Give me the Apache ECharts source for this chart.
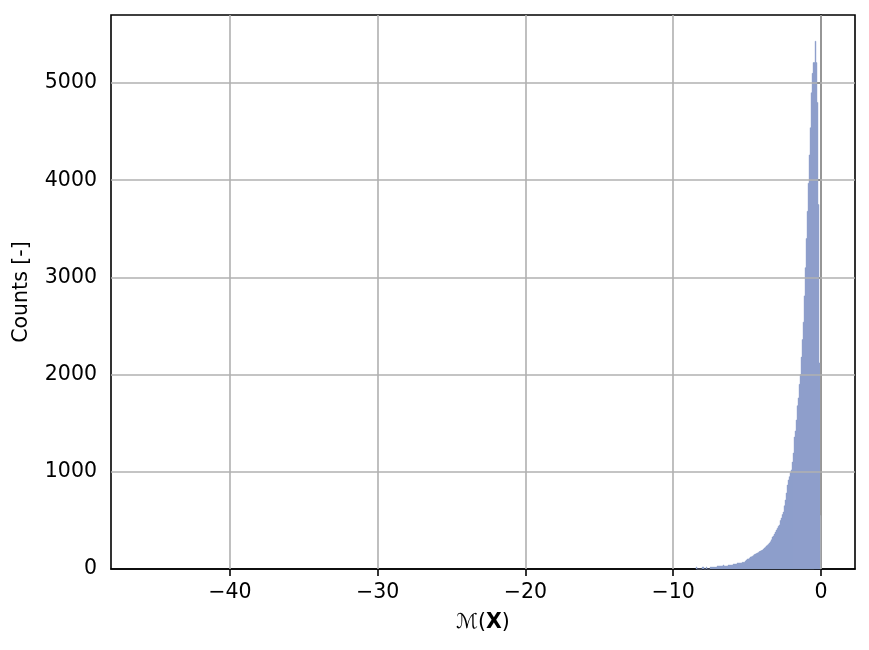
<!DOCTYPE html>
<html>
<head>
<meta charset="utf-8">
<script src="https://cdn.jsdelivr.net/npm/echarts@6/dist/echarts.min.js"></script>
<style>html,body{margin:0;padding:0;background:#fff}#c{width:869px;height:650px}</style>
</head>
<body>
<div id="c"></div>
<script>
// Histogram: bins of equal width, left edge of first visible bin and counts per bin
const BIN_W = 0.06768;
const FIRST_EDGE = -8.46;
const counts = [
  20, 0, 0, 0, 0, 0, 20, 20, 0, 0,
  20, 0, 0, 0, 20, 20, 20, 20, 20, 20,
  20, 31, 31, 31, 31, 31, 31, 41, 31, 31,
  31, 31, 41, 41, 41, 41, 41, 51, 51, 51,
  51, 62, 62, 62, 62, 62, 69, 69, 69, 82,
  92, 103, 103, 110, 123, 125, 130, 140, 150, 154,
  160, 165, 170, 180, 185, 190, 195, 205, 215, 225,
  237, 245, 255, 267, 280, 300, 329, 340, 360, 380,
  401, 420, 440, 453, 500, 525, 560, 586, 650, 710,
  782, 864, 916, 950, 990, 1019, 1100, 1193, 1358, 1420,
  1533, 1680, 1760, 1900, 2000, 2180, 2360, 2540, 2810, 3100,
  3400, 3680, 3970, 4260, 4540, 4900, 5100, 5210, 5210, 5430,
  5210, 4800, 3750, 2120, 550
];
const xTicks = [-40, -30, -20, -10, 0];
const yTicks = [0, 1000, 2000, 3000, 4000, 5000];
const X_MIN = -48.05, X_MAX = 2.3, Y_MAX = 5700;

const barColor = '#8da0cb';
const gridColor = '#b0b0b0';
const font = "'DejaVu Sans', sans-serif";
const FS = 20.5;
const fmt = v => String(v).replace('-', '\u2212');

const binData = counts.map((c, i) => [FIRST_EDGE + i * BIN_W, FIRST_EDGE + (i + 1) * BIN_W, c]);

const chart = echarts.init(document.getElementById('c'), null, {renderer: 'canvas'});
chart.setOption({
  animation: false,
  backgroundColor: '#fff',
  grid: {left: 111, right: 14, top: 15, bottom: 81, show: true, borderColor: '#000', borderWidth: 1.6, backgroundColor: 'transparent'},
  xAxis: {
    type: 'value', min: X_MIN, max: X_MAX,
    name: '{m|\u2133}{n|(}{b|X}{n|)}', nameLocation: 'middle', nameGap: 43,
    nameTextStyle: {rich: {
      m: {fontFamily: font, fontSize: FS, color: '#000', fontStyle: 'italic'},
      n: {fontFamily: font, fontSize: FS, color: '#000'},
      b: {fontFamily: font, fontSize: FS, color: '#000', fontWeight: 'bold'}
    }},
    axisLine: {show: true, onZero: false, lineStyle: {color: '#000', width: 1.6}},
    axisTick: {show: true, customValues: xTicks, length: 7, lineStyle: {color: '#000', width: 1.6}},
    axisLabel: {customValues: xTicks, formatter: fmt, color: '#000', fontFamily: font, fontSize: FS, margin: 13},
    splitLine: {show: false}
  },
  yAxis: {
    type: 'value', min: 0, max: Y_MAX,
    name: 'Counts [-]', nameLocation: 'middle', nameGap: 79, nameRotate: 90,
    nameTextStyle: {color: '#000', fontFamily: font, fontSize: FS},
    axisLine: {show: true, lineStyle: {color: '#000', width: 1.6}},
    axisTick: {show: true, customValues: yTicks, length: 7, lineStyle: {color: '#000', width: 1.6}},
    axisLabel: {customValues: yTicks, formatter: v => String(v), color: '#000', fontFamily: font, fontSize: FS, margin: 14},
    splitLine: {show: false}
  },
  series: [
    {
      type: 'custom',
      data: binData,
      encode: {x: [0, 1], y: 2},
      z: 2,
      renderItem: function (params, api) {
        const p0 = api.coord([api.value(0), api.value(2)]);
        const p1 = api.coord([api.value(1), 0]);
        return {
          type: 'rect',
          shape: {x: p0[0], y: p0[1], width: p1[0] - p0[0], height: p1[1] - p0[1]},
          style: {fill: barColor, stroke: barColor, lineWidth: 0.4}
        };
      }
    },
    {
      type: 'line', data: [], z: 5, silent: true,
      markLine: {
        silent: true, symbol: 'none', label: {show: false},
        lineStyle: {color: gridColor, width: 1.6, type: 'solid'},
        data: xTicks.map(v => ({xAxis: v})).concat(yTicks.slice(1).map(v => ({yAxis: v})))
      }
    }
  ]
});
</script>
</body>
</html>
